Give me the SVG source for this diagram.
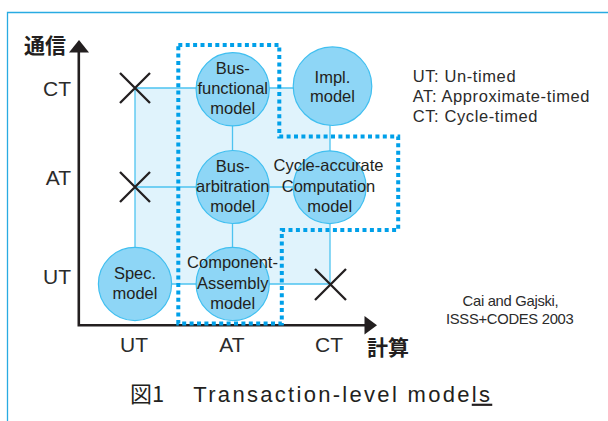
<svg xmlns="http://www.w3.org/2000/svg" width="608" height="421" viewBox="0 0 608 421">
  <style>
    .lat { font-family: "Liberation Sans", Arial, "Noto Sans CJK JP", sans-serif; fill: #231f20; }
    .cjk { font-family: "Noto Sans CJK JP", sans-serif; font-weight: bold; fill: #231f20; }
    .tick { font-size: 21px; fill: #2b2b2b; }
    .nt { font-size: 16.5px; text-anchor: middle; }
    .legend { font-size: 16.5px; fill: #2b2b2b; letter-spacing: 0.6px; }
    .cite { font-size: 14.8px; text-anchor: middle; fill: #2b2b2b; letter-spacing: -0.3px; }
    .grid { stroke: #4dc3f0; stroke-width: 1.3; fill: none; }
    .node { fill: #8ed6f6; stroke: #40bff0; stroke-width: 1.2; }
    .cross { stroke: #231f20; stroke-width: 2.3; fill: none; }
    .axis { stroke: #231f20; stroke-width: 2.6; fill: none; }
  </style>

  <!-- page frame -->
  <path d="M608,12.5 H7.5 V421" fill="none" stroke="#29abe2" stroke-width="1.3"/>

  <!-- shaded design space -->
  <rect x="135" y="88" width="195" height="196" fill="#e0f3fc"/>

  <!-- connectors: grid between models -->
  <g id="connectors" class="grid">
    <line x1="135" y1="88" x2="330" y2="88"/>
    <line x1="135" y1="187" x2="330" y2="187"/>
    <line x1="135" y1="284" x2="330" y2="284"/>
    <line x1="135" y1="88" x2="135" y2="284"/>
    <line x1="232.5" y1="88" x2="232.5" y2="284"/>
    <line x1="330" y1="88" x2="330" y2="284"/>
  </g>

  <!-- axes -->
  <g id="axes">
    <path class="axis" d="M78.8,326.5 V50 M77.5,325.3 H367"/>
    <path d="M79,40 L89,52.5 L69,52.5 Z" fill="#231f20"/>
    <path d="M377,325.3 L364.5,316 L364.5,334.6 Z" fill="#231f20"/>
    <text class="cjk" x="24" y="53" font-size="21">通信</text>
    <text class="cjk" x="367" y="355" font-size="21">計算</text>
    <g class="lat tick" text-anchor="end">
      <text x="71" y="96">CT</text>
      <text x="71" y="185">AT</text>
      <text x="71" y="284">UT</text>
    </g>
    <g class="lat tick" text-anchor="middle">
      <text x="134" y="352">UT</text>
      <text x="232" y="352">AT</text>
      <text x="329" y="352">CT</text>
    </g>
  </g>

  <!-- infeasible points -->
  <g id="x-marks" class="cross">
    <path d="M120,73 L150,103 M150,73 L120,103"/>
    <path d="M120,172 L150,202 M150,172 L120,202"/>
    <path d="M315,269 L346,300 M346,269 L315,300"/>
  </g>

  <!-- models -->
  <g id="node-bus-functional">
    <circle class="node" cx="232.7" cy="89.2" r="36.6"/>
    <text class="lat nt" x="232.7" y="73.5">Bus-</text>
    <text class="lat nt" x="232.7" y="94.3">functional</text>
    <text class="lat nt" x="232.7" y="113.5">model</text>
  </g>
  <g id="node-impl">
    <circle class="node" cx="332.5" cy="86.2" r="39.3"/>
    <text class="lat nt" x="332.5" y="83.3">Impl.</text>
    <text class="lat nt" x="332.5" y="101.8">model</text>
  </g>
  <g id="node-bus-arbitration">
    <circle class="node" cx="232.7" cy="187" r="36.5"/>
    <text class="lat nt" x="232.7" y="171.7">Bus-</text>
    <text class="lat nt" x="232.7" y="192.2">arbitration</text>
    <text class="lat nt" x="232.7" y="212.3">model</text>
  </g>
  <g id="node-cycle-accurate">
    <circle class="node" cx="329.7" cy="187.2" r="36.4"/>
    <text class="lat nt" x="328.5" y="170.8">Cycle-accurate</text>
    <text class="lat nt" x="328.5" y="192.3">Computation</text>
    <text class="lat nt" x="329.7" y="212.3">model</text>
  </g>
  <g id="node-spec">
    <circle class="node" cx="135" cy="284" r="36.6"/>
    <text class="lat nt" x="135" y="279.3">Spec.</text>
    <text class="lat nt" x="135" y="299.3">model</text>
  </g>
  <g id="node-component-assembly">
    <circle class="node" cx="232.7" cy="284" r="36.6"/>
    <text class="lat nt" x="232.5" y="268.3">Component-</text>
    <text class="lat nt" x="232.7" y="289.3">Assembly</text>
    <text class="lat nt" x="232.7" y="309.3">model</text>
  </g>

  <!-- transaction-level model boundary -->
  <path id="tlm-boundary" d="M178.3,45 H279.3 V136.5 H398.2 V230 H281.8 V323.5 H178.3 Z"
        fill="none" stroke="#00a0e9" stroke-width="4" stroke-dasharray="4 3.4"/>

  <!-- legend -->
  <g id="legend" class="lat legend">
    <text x="412.7" y="81.7">UT: Un-timed</text>
    <text x="412.7" y="101.7">AT: Approximate-timed</text>
    <text x="412.7" y="121.7">CT: Cycle-timed</text>
  </g>

  <g id="citation" class="lat cite">
    <text x="510.5" y="306">Cai and Gajski,</text>
    <text x="509.7" y="324">ISSS+CODES 2003</text>
  </g>

  <!-- caption -->
  <text id="caption" class="lat" x="130" y="401.7" font-size="22" fill="#2b2b2b"><tspan font-family="'Noto Sans CJK JP', sans-serif" letter-spacing="0">図1</tspan><tspan x="193.3" letter-spacing="2.3">Transaction-level mode<tspan text-decoration="underline">ls</tspan></tspan></text>
</svg>
